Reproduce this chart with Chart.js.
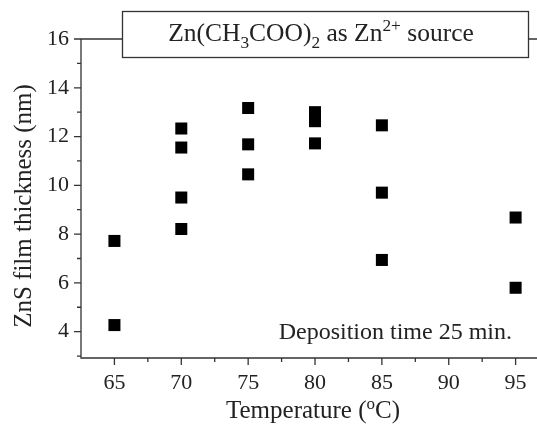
<!DOCTYPE html>
<html><head><meta charset="utf-8">
<script src="https://cdn.jsdelivr.net/npm/chart.js@4/dist/chart.umd.min.js"></script>
<style>html,body{margin:0;padding:0;background:#fff;overflow:hidden}</style>
</head><body>
<canvas id="c" width="537" height="428"></canvas>
<script>
// ---- data ----
const temperatures = [65, 65, 70, 70, 70, 70, 75, 75, 75, 80, 80, 80, 85, 85, 85, 95, 95];
const thickness    = [7.72, 4.27, 12.33, 11.55, 9.5, 8.21, 13.17, 11.68, 10.45, 13.0, 12.63, 11.72, 12.46, 9.7, 6.94, 8.68, 5.8];
const xMajorTicks = [65, 70, 75, 80, 85, 90, 95];
const xMinorTicks = [67.5, 72.5, 77.5, 82.5, 87.5, 92.5];
const yMajorTicks = [4, 6, 8, 10, 12, 14, 16];
const yMinorTicks = [3, 5, 7, 9, 11, 13, 15];
const boxTitle = [["Zn(CH", "n"], ["3", "sub"], ["COO)", "n"], ["2", "sub"], [" as Zn", "n"], ["2+", "sup"], [" source", "n"]];
const xTitle = [["Temperature (", "n"], ["o", "sup"], ["C)", "n"]];
const yTitle = "ZnS film thickness (nm)";
const noteText = "Deposition time 25 min.";

const FONT = '"Liberation Serif", "Times New Roman", serif';
const INK = '#222';

function richWidth(ctx, parts, size) {
  let w = 0;
  for (const [t, k] of parts) {
    const s = k === 'n' ? size : size * 0.68;
    ctx.font = s + 'px ' + FONT;
    w += ctx.measureText(t).width;
  }
  return w;
}
function drawRich(ctx, parts, x, y, size, align) {
  const w = richWidth(ctx, parts, size);
  let cx = align === 'center' ? x - w / 2 : (align === 'right' ? x - w : x);
  ctx.textAlign = 'left';
  ctx.textBaseline = 'alphabetic';
  for (const [t, k] of parts) {
    const s = k === 'n' ? size : size * 0.68;
    const dy = k === 'sub' ? size * 0.28 : (k === 'sup' ? -size * 0.38 : 0);
    ctx.font = s + 'px ' + FONT;
    ctx.fillText(t, cx, y + dy);
    cx += ctx.measureText(t).width;
  }
}

const decor = {
  id: 'decor',
  afterDraw(chart) {
    const ctx = chart.ctx;
    const xs = chart.scales.x, ys = chart.scales.y;
    const L = chart.chartArea.left, R = chart.chartArea.right;
    const T = chart.chartArea.top, B = chart.chartArea.bottom;
    ctx.save();
    ctx.strokeStyle = '#333';
    ctx.lineWidth = 1.3;
    ctx.beginPath();
    // left axis, bottom axis, top line
    ctx.moveTo(L, T); ctx.lineTo(L, B); ctx.lineTo(R, B);
    ctx.moveTo(L, T); ctx.lineTo(R, T);
    // y ticks
    for (const v of yMajorTicks) { const p = ys.getPixelForValue(v); ctx.moveTo(L - 7, p); ctx.lineTo(L, p); }
    for (const v of yMinorTicks) { const p = ys.getPixelForValue(v); ctx.moveTo(L - 4, p); ctx.lineTo(L, p); }
    // x ticks
    for (const v of xMajorTicks) { const p = xs.getPixelForValue(v); ctx.moveTo(p, B); ctx.lineTo(p, B + 7); }
    for (const v of xMinorTicks) { const p = xs.getPixelForValue(v); ctx.moveTo(p, B); ctx.lineTo(p, B + 4); }
    ctx.stroke();

    // title box
    ctx.fillStyle = '#fff';
    ctx.fillRect(122.5, 11.5, 406, 46);
    ctx.strokeRect(122.5, 11.5, 406, 46);
    ctx.fillStyle = INK;
    drawRich(ctx, boxTitle, 321, 41, 25.5, 'center');

    // note
    drawRich(ctx, [[noteText, 'n']], 512, 339, 24, 'right');

    // x title
    drawRich(ctx, xTitle, 313, 418, 25, 'center');

    // y title
    ctx.save();
    ctx.translate(31, 206);
    ctx.rotate(-Math.PI / 2);
    drawRich(ctx, [[yTitle, 'n']], 0, 0, 25, 'center');
    ctx.restore();
    ctx.restore();
  }
};

new Chart(document.getElementById('c'), {
  type: 'scatter',
  data: {
    datasets: [{
      data: temperatures.map((t, i) => ({ x: t, y: thickness[i] })),
      pointStyle: 'rect',
      pointRadius: 8.5,
      pointHoverRadius: 8.5,
      backgroundColor: '#000',
      borderWidth: 0
    }]
  },
  options: {
    responsive: false,
    devicePixelRatio: 1,
    animation: false,
    events: [],
    layout: { padding: { top: 39, right: 0, left: 0, bottom: 0 }, autoPadding: false },
    plugins: { legend: { display: false }, tooltip: { enabled: false } },
    scales: {
      x: {
        type: 'linear', min: 62.5, max: 96.6,
        afterBuildTicks: s => { s.ticks = xMajorTicks.map(v => ({ value: v })); },
        afterFit: s => { s.height = 70; },
        grid: { display: true, drawOnChartArea: false, drawTicks: true, tickLength: 7, color: 'rgba(0,0,0,0)' },
        border: { display: false },
        ticks: { color: INK, font: { family: FONT, size: 22 }, padding: 5, maxRotation: 0, autoSkip: false }
      },
      y: {
        type: 'linear', min: 2.92, max: 16,
        afterBuildTicks: s => { s.ticks = yMajorTicks.map(v => ({ value: v })); },
        afterFit: s => { s.width = 81; },
        grid: { display: true, drawOnChartArea: false, drawTicks: true, tickLength: 7, color: 'rgba(0,0,0,0)' },
        border: { display: false },
        ticks: { color: INK, font: { family: FONT, size: 22 }, padding: 5, autoSkip: false }
      }
    }
  },
  plugins: [decor]
});
</script>
</body></html>
